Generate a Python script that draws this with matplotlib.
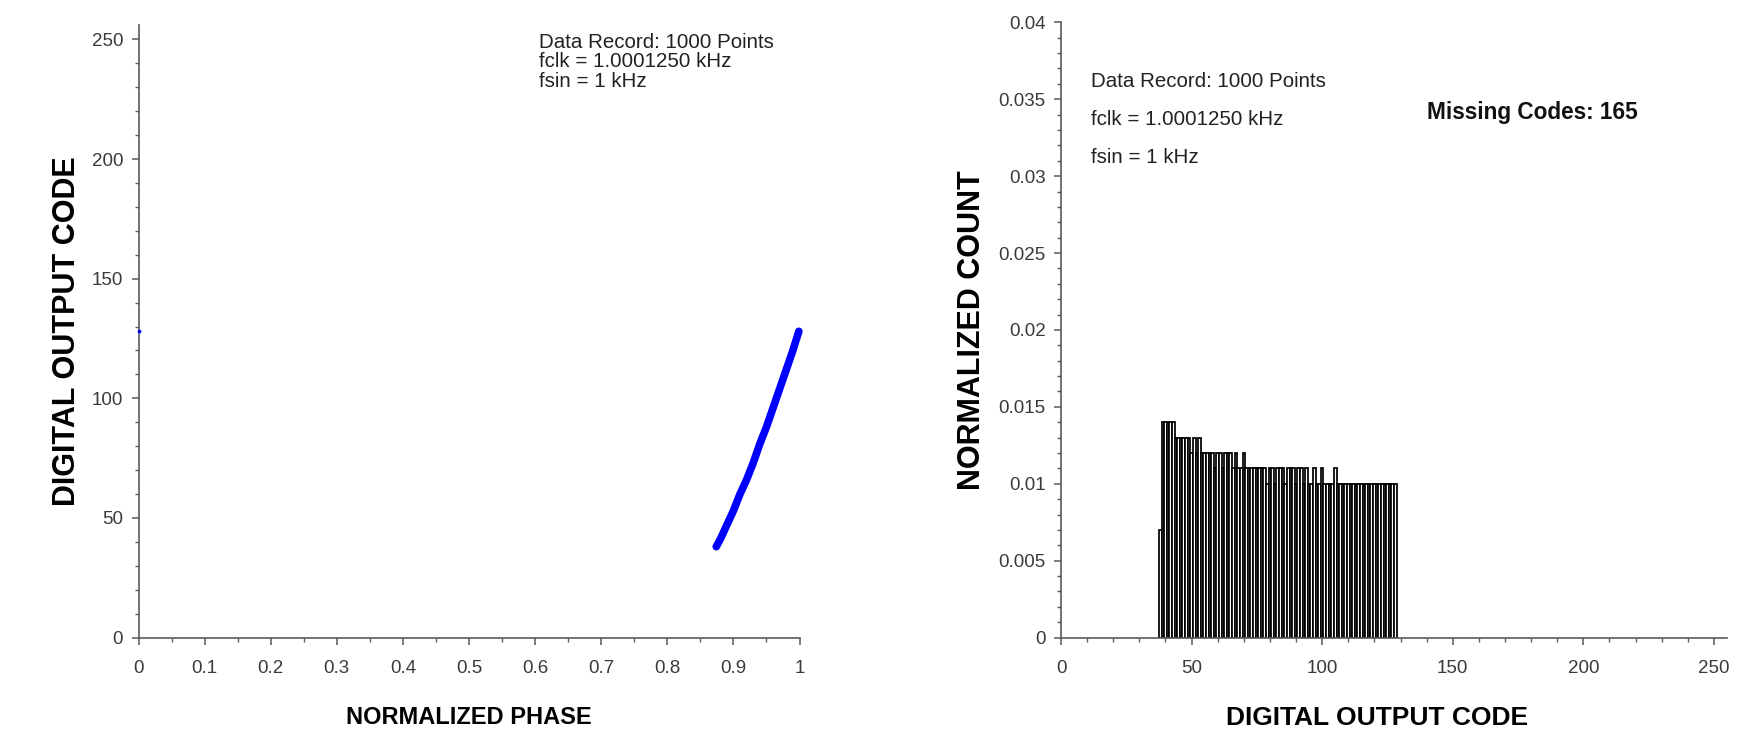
import matplotlib
matplotlib.use("Agg")
import matplotlib.pyplot as plt
from matplotlib.ticker import MultipleLocator, FuncFormatter

# ---------------- data ----------------
ramp_phase = [0.874, 0.880, 0.890, 0.900, 0.910, 0.920, 0.930, 0.940,
              0.950, 0.960, 0.970, 0.980, 0.990, 0.999]
ramp_code = [38, 41, 47, 53, 60, 66, 73, 81, 88, 96, 104, 112, 120, 128]
first_phase = [0.0]
first_code = [128]

# Right: histogram of output codes (normalized counts)
hist_codes = list(range(38, 129))
hist_counts = (
    [0.007]
    + [0.014] * 5
    + [0.013] * 6
    + [0.012, 0.013, 0.012, 0.013, 0.012]
    + [0.012] * 4
    + [0.011, 0.012, 0.012, 0.011, 0.012, 0.012, 0.012, 0.011, 0.012, 0.011, 0.011, 0.012]
    + [0.011] * 8
    + [0.010, 0.011, 0.011, 0.010, 0.011, 0.011, 0.011, 0.010, 0.011, 0.011, 0.011,
       0.010, 0.011, 0.011, 0.010, 0.011, 0.010, 0.010, 0.011, 0.010, 0.010, 0.011,
       0.010, 0.010, 0.010, 0.010, 0.011]
    + [0.010] * 23
)

x_ticks_left = [0, 0.1, 0.2, 0.3, 0.4, 0.5, 0.6, 0.7, 0.8, 0.9, 1.0]
y_ticks_left = [0, 50, 100, 150, 200, 250]
x_ticks_right = [0, 50, 100, 150, 200, 250]
y_ticks_right = [0, 0.005, 0.01, 0.015, 0.02, 0.025, 0.03, 0.035, 0.04]

info_lines = ["Data Record: 1000 Points", "fclk = 1.0001250 kHz", "fsin = 1 kHz"]
missing_text = "Missing Codes: 165"

# ---------------- style ----------------
plt.rcParams['font.family'] = ['Liberation Sans', 'DejaVu Sans']
AXC = '#5a5a5a'
TXC = '#3a3a3a'

W, H = 1751, 734
fig = plt.figure(figsize=(W / 100, H / 100), dpi=100)


def fr(x0, y0, x1, y1):
    # pixel box -> figure fraction
    return [x0 / W, 1 - y1 / H, (x1 - x0) / W, (y1 - y0) / H]


def style_axes(ax):
    for s in ('top', 'right'):
        ax.spines[s].set_visible(False)
    for s in ('left', 'bottom'):
        ax.spines[s].set_color(AXC)
        ax.spines[s].set_linewidth(1.2)
    ax.tick_params(which='major', direction='out', length=5, width=1.1,
                   color=AXC, labelcolor=TXC, labelsize=13.5)
    ax.tick_params(which='minor', direction='out', length=3, width=1.0, color=AXC)
    ax.tick_params(axis='x', which='major', pad=11)
    ax.tick_params(axis='y', which='major', pad=6)


def set_labels(ax, xl, yl, xsize, ysize, xcx, ycx):
    ax.set_xlabel(xl, fontsize=xsize, fontweight='bold', color='black')
    ax.set_ylabel(yl, fontsize=ysize, fontweight='bold', color='black')
    ax.xaxis.label.set_verticalalignment('center')
    ax.yaxis.label.set_verticalalignment('center')
    ax.yaxis.label.set_rotation_mode('default')
    ax.xaxis.set_label_coords(xcx, -0.13)
    ax.yaxis.set_label_coords(ycx, 0.5)


fmt = FuncFormatter(lambda v, p: ('%g' % round(v, 6)))

# ---------------- left panel ----------------
ax1 = fig.add_axes(fr(138.5, 25, 799.5, 637.6))
ax1.plot(ramp_phase, ramp_code, color='#0000ff', lw=5.5, solid_capstyle='round',
         solid_joinstyle='round', clip_on=False, zorder=3)
ax1.scatter(first_phase, first_code, s=3, color='#0000ff', clip_on=False, zorder=3)
ax1.set_xlim(0, 1)
ax1.set_ylim(0, 256)
ax1.set_xticks(x_ticks_left)
ax1.set_yticks(y_ticks_left)
ax1.xaxis.set_minor_locator(MultipleLocator(0.05))
ax1.yaxis.set_minor_locator(MultipleLocator(10))
ax1.xaxis.set_major_formatter(fmt)
ax1.yaxis.set_major_formatter(fmt)
style_axes(ax1)
set_labels(ax1, 'NORMALIZED PHASE', 'DIGITAL OUTPUT CODE', 17, 22,
           0.5, (67 - 138.5) / 661)
for i, t in enumerate(info_lines):
    fig.text(539 / W, 1 - (42.4 + 19.5 * i) / H, t, fontsize=14.8, color='#222222',
             ha='left', va='center')

# ---------------- right panel ----------------
ax2 = fig.add_axes(fr(1061, 22.3, 1727, 637.6))
ax2.bar(hist_codes, hist_counts, width=1.0, facecolor='white', edgecolor='black',
        linewidth=1.25, align='center', zorder=2)
ax2.set_xlim(0, 255)
ax2.set_ylim(0, 0.04)
ax2.set_xticks(x_ticks_right)
ax2.set_yticks(y_ticks_right)
ax2.xaxis.set_minor_locator(MultipleLocator(10))
ax2.yaxis.set_minor_locator(MultipleLocator(0.001))
ax2.xaxis.set_major_formatter(fmt)
ax2.yaxis.set_major_formatter(fmt)
style_axes(ax2)
set_labels(ax2, 'DIGITAL OUTPUT CODE', 'NORMALIZED COUNT', 19, 22,
           (1377 - 1061) / 666, (971.5 - 1061) / 666)
for i, t in enumerate(info_lines):
    fig.text(1091 / W, 1 - (81.5 + 38 * i) / H, t, fontsize=14.8, color='#222222',
             ha='left', va='center')
fig.text(1427 / W, 1 - 113 / H, missing_text, fontsize=16.3, fontweight='bold',
         color='#111111', ha='left', va='center')

fig.savefig('out.png', dpi=100, facecolor='white')
